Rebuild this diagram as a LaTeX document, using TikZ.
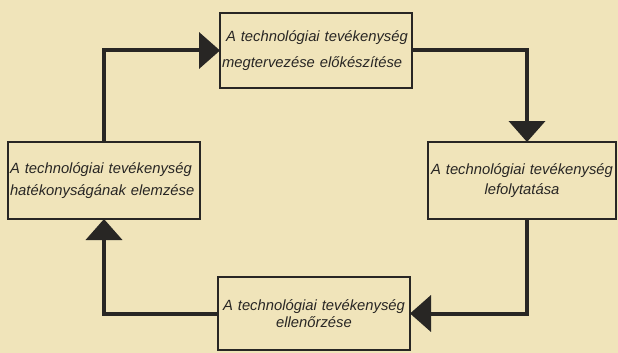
\documentclass[tikz,border=0pt]{standalone}
\usepackage{fontspec}
\setmainfont{Liberation Sans}
\usetikzlibrary{arrows.meta}
\definecolor{paper}{RGB}{240,228,186}
\definecolor{ink}{RGB}{40,38,36}
\begin{document}
\begin{tikzpicture}[x=1pt,y=-1pt,
  box/.style={draw=ink, line width=2.5pt, inner sep=3pt, outer sep=0pt,
    text=ink, font=\itshape\fontsize{14.8}{19}\selectfont},
  conn/.style={draw=ink, line width=4pt,
    -{Triangle[width=36pt,length=21pt]}}]
\fill[paper] (0,0) rectangle (618,353);
\useasboundingbox (0,0) rectangle (618,353);
\node[box, minimum width=192, minimum height=75, text width=188pt, align=left, inner sep=2pt]
  (top) at (316,50.5) {\hspace*{4pt}A technológiai tevékenység\\[7pt]megtervezése előkészítése};
\node[box, minimum width=192, minimum height=77, text width=188pt, align=left, inner sep=2pt]
  (left) at (104,180.5) {A technológiai tevékenység\\[3pt]hatékonyságának elemzése\\[4pt]};
\node[box, minimum width=188, minimum height=77, text width=184pt, align=center, inner sep=2pt]
  (right) at (522,180.5) {A technológiai tevékenység\\[1pt]lefolytatása};
\node[box, minimum width=192, minimum height=73, text width=188pt, align=center, inner sep=2pt]
  (bottom) at (314,313.5) {A technológiai tevékenység\\[-2pt]ellenőrzése};
\draw[conn] (left.north) |- (top.west);
\draw[conn] (top.east) -| ([xshift=5pt]right.north);
\draw[conn] ([xshift=5pt]right.south) |- (bottom.east);
\draw[conn] (bottom.west) -| (left.south);
\end{tikzpicture}
\end{document}
